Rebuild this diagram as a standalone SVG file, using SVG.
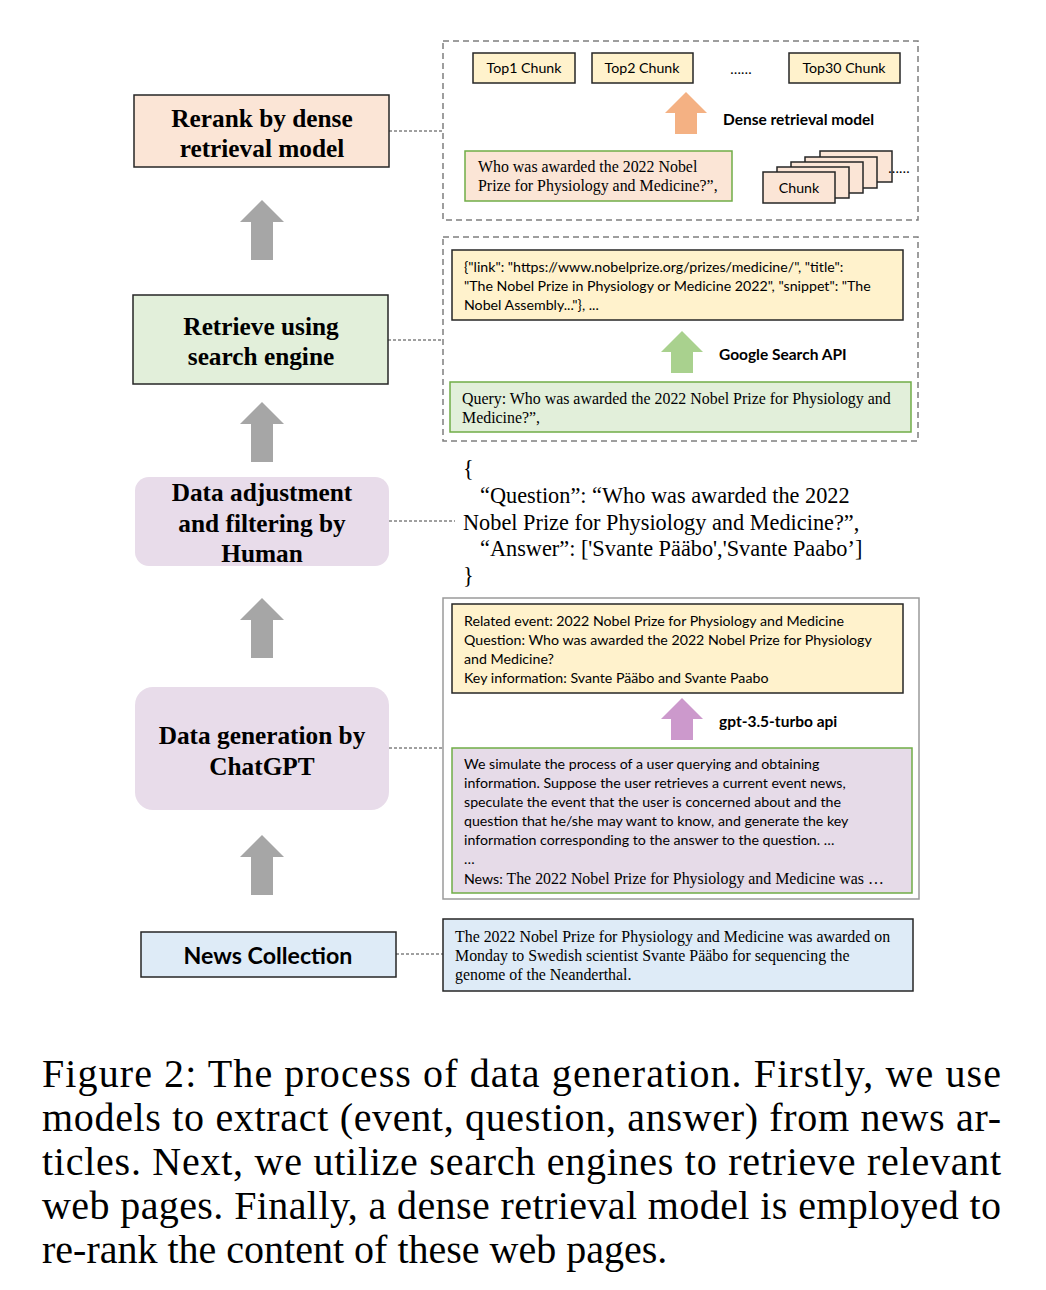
<svg xmlns="http://www.w3.org/2000/svg" width="1046" height="1290" viewBox="0 0 1046 1290">
<style>
.lbl{font-family:"Liberation Serif",serif;font-weight:bold;font-size:25.3px;fill:#000;text-anchor:middle}
.sans{font-family:Lato,"Open Sans",sans-serif;font-size:14.2px;fill:#000}
.sansb{font-family:Lato,"Open Sans",sans-serif;font-size:15.5px;font-weight:bold;fill:#000}
.ser{font-family:"Liberation Serif",serif;font-size:15.9px;fill:#000}
.big{font-family:"Liberation Serif",serif;font-size:22.3px;fill:#000}
.cap{font-family:"Liberation Serif",serif;font-size:40px;fill:#000}
.dash{fill:none;stroke:#7f7f7f;stroke-width:1.5;stroke-dasharray:6,4}
.conn{fill:none;stroke:#404040;stroke-width:1;stroke-dasharray:3,2}
.box{stroke:#262626;stroke-width:1.5}
.gbox{stroke:#70ad47;stroke-width:1.5}
</style>
<defs>
<path id="arr" d="M0,0 L22,22 L11,22 L11,60 L-11,60 L-11,22 L-22,22 Z"/>
<path id="sarr" d="M0,0 L21,21 L11,21 L11,42 L-11,42 L-11,21 L-21,21 Z"/>
</defs>
<rect width="1046" height="1290" fill="#fff"/>

<g id="connectors">
<line class="conn" x1="389" y1="131" x2="443" y2="131"/>
<line class="conn" x1="388" y1="340" x2="443" y2="340"/>
<line class="conn" x1="389" y1="521" x2="455" y2="521"/>
<line class="conn" x1="389" y1="748" x2="443" y2="748"/>
<line class="conn" x1="396" y1="954" x2="443" y2="954"/>
<use href="#arr" x="262" y="200" fill="#a6a6a6"/>
<use href="#arr" x="262" y="402" fill="#a6a6a6"/>
<use href="#arr" x="262" y="598" fill="#a6a6a6"/>
<use href="#arr" x="262" y="835" fill="#a6a6a6"/>
<use href="#sarr" x="686" y="92" fill="#f4b183"/>
<use href="#sarr" x="682" y="331" fill="#a9d18e"/>
<use href="#sarr" x="682" y="698" fill="#cc99cc"/>
</g>

<g id="rerank">
<rect x="134" y="95" width="255" height="72" fill="#fbe5d6" class="box"/>
<text class="lbl" x="262" y="127">Rerank by dense</text>
<text class="lbl" x="262" y="157">retrieval model</text>
</g>
<g id="retrieve">
<rect x="133" y="295" width="255" height="89" fill="#e2efda" class="box"/>
<text class="lbl" x="261" y="335">Retrieve using</text>
<text class="lbl" x="261" y="365">search engine</text>
</g>
<g id="adjust">
<rect x="135" y="477" width="254" height="89" rx="14" fill="#e8dcea"/>
<text class="lbl" x="262" y="501">Data adjustment</text>
<text class="lbl" x="262" y="532">and filtering by</text>
<text class="lbl" x="262" y="562">Human</text>
</g>
<g id="generation">
<rect x="135" y="687" width="254" height="123" rx="18" fill="#e8dcea"/>
<text class="lbl" x="262" y="744">Data generation by</text>
<text class="lbl" x="262" y="775">ChatGPT</text>
</g>
<g id="news">
<rect x="141" y="932" width="255" height="45" fill="#deebf7" class="box"/>
<text x="268" y="964" style="font-family:Lato,'Open Sans',sans-serif;font-weight:bold;font-size:23.2px;text-anchor:middle">News Collection</text>
</g>

<g id="panel-rerank">
<rect x="443" y="41" width="475" height="179" class="dash"/>
<rect x="473" y="53" width="102" height="30" fill="#fff2cc" class="box"/>
<text class="sans" x="524" y="73" text-anchor="middle">Top1 Chunk</text>
<rect x="592" y="53" width="101" height="30" fill="#fff2cc" class="box"/>
<text class="sans" x="642" y="73" text-anchor="middle">Top2 Chunk</text>
<text class="sans" x="741" y="74" text-anchor="middle">……</text>
<rect x="789" y="53" width="111" height="30" fill="#fff2cc" class="box"/>
<text class="sans" x="844" y="73" text-anchor="middle">Top30 Chunk</text>
<text class="sansb" x="723" y="125">Dense retrieval model</text>
<rect x="465" y="151" width="267" height="50" fill="#fbe5d6" class="gbox"/>
<text class="ser" x="478" y="172">Who was awarded the 2022 Nobel</text>
<text class="ser" x="478" y="191">Prize for Physiology and Medicine?”,</text>
<rect x="820" y="151" width="72" height="31" fill="#fbe5d6" class="box" stroke-width="1.2"/>
<rect x="805" y="157" width="72" height="31" fill="#fbe5d6" class="box" stroke-width="1.2"/>
<rect x="791" y="162" width="72" height="31" fill="#fbe5d6" class="box" stroke-width="1.2"/>
<rect x="777" y="167" width="72" height="31" fill="#fbe5d6" class="box" stroke-width="1.2"/>
<rect x="763" y="172" width="72" height="31" fill="#fbe5d6" class="box" stroke-width="1.2"/>
<text class="sans" x="799" y="193" text-anchor="middle">Chunk</text>
<text class="sans" x="899" y="173" text-anchor="middle">……</text>
</g>

<g id="panel-search">
<rect x="443" y="237" width="475" height="204" class="dash"/>
<rect x="452" y="250" width="451" height="70" fill="#fff2cc" class="box"/>
<text class="sans" x="464" y="272" font-size="14.6">{"link": "https://www.nobelprize.org/prizes/medicine/", "title":</text>
<text class="sans" x="464" y="291" font-size="14.6">"The Nobel Prize in Physiology or Medicine 2022", "snippet": "The</text>
<text class="sans" x="464" y="310" font-size="14.6">Nobel Assembly..."}, ...</text>
<text class="sansb" x="719" y="360">Google Search API</text>
<rect x="450" y="382" width="461" height="50" fill="#e2efda" class="gbox"/>
<text class="ser" x="462" y="404">Query: Who was awarded the 2022 Nobel Prize for Physiology and</text>
<text class="ser" x="462" y="423">Medicine?”,</text>
</g>

<g id="json">
<text class="big" x="463" y="476">{</text>
<text class="big" x="480" y="503">“Question”: “Who was awarded the 2022</text>
<text class="big" x="463" y="530">Nobel Prize for Physiology and Medicine?”,</text>
<text class="big" x="480" y="556">“Answer”: ['Svante Pääbo','Svante Paabo’]</text>
<text class="big" x="463" y="583">}</text>
</g>

<g id="panel-gen">
<rect x="443" y="598" width="476" height="301" fill="none" stroke="#9a9a9a" stroke-width="1.5"/>
<rect x="452" y="604" width="451" height="89" fill="#fff2cc" class="box"/>
<text class="sans" x="464" y="626">Related event: 2022 Nobel Prize for Physiology and Medicine</text>
<text class="sans" x="464" y="645">Question: Who was awarded the 2022 Nobel Prize for Physiology</text>
<text class="sans" x="464" y="664">and Medicine?</text>
<text class="sans" x="464" y="683">Key information: Svante Pääbo and Svante Paabo</text>
<text class="sansb" x="719" y="727">gpt-3.5-turbo api</text>
<rect x="452" y="748" width="460" height="145" fill="#e6dbe8" class="gbox"/>
<text class="sans" x="464" y="769">We simulate the process of a user querying and obtaining</text>
<text class="sans" x="464" y="788">information. Suppose the user retrieves a current event news,</text>
<text class="sans" x="464" y="807">speculate the event that the user is concerned about and the</text>
<text class="sans" x="464" y="826">question that he/she may want to know, and generate the key</text>
<text class="sans" x="464" y="845">information corresponding to the answer to the question. …</text>
<text class="sans" x="464" y="864">…</text>
<text class="sans" x="464" y="884">News: <tspan style="font-family:'Liberation Serif',serif;font-size:15.9px">The 2022 Nobel Prize for Physiology and Medicine was …</tspan></text>
</g>

<g id="panel-news">
<rect x="443" y="919" width="470" height="72" fill="#deebf7" class="box"/>
<text class="ser" x="455" y="942">The 2022 Nobel Prize for Physiology and Medicine was awarded on</text>
<text class="ser" x="455" y="961">Monday to Swedish scientist Svante Pääbo for sequencing the</text>
<text class="ser" x="455" y="980">genome of the Neanderthal.</text>
</g>

<g id="caption">
<text class="cap" x="42" y="1087" textLength="959" lengthAdjust="spacing">Figure 2: The process of data generation. Firstly, we use</text>
<text class="cap" x="42" y="1131" textLength="959" lengthAdjust="spacing">models to extract (event, question, answer) from news ar-</text>
<text class="cap" x="42" y="1175" textLength="959" lengthAdjust="spacing">ticles. Next, we utilize search engines to retrieve relevant</text>
<text class="cap" x="42" y="1219" textLength="959" lengthAdjust="spacing">web pages. Finally, a dense retrieval model is employed to</text>
<text class="cap" x="42" y="1263">re-rank the content of these web pages.</text>
</g>
</svg>
